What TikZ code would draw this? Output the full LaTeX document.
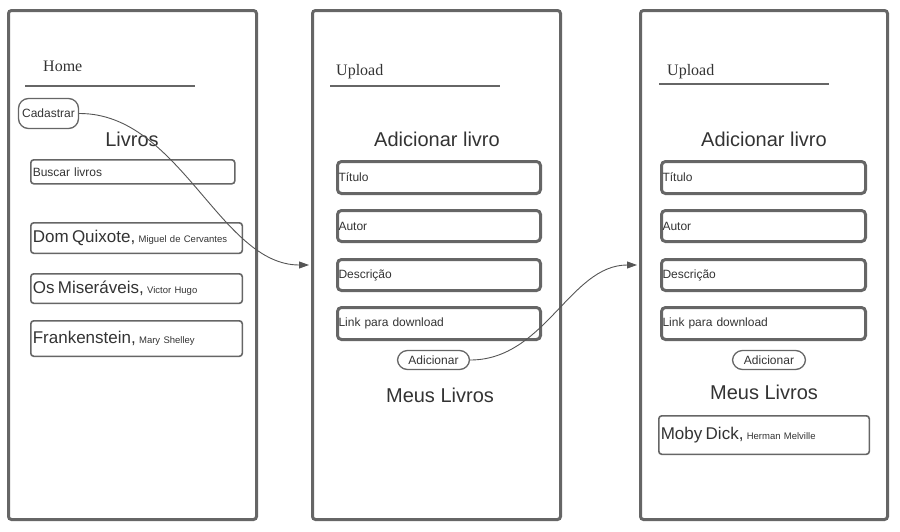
\documentclass[tikz,border=0pt]{standalone}
\usepackage{fontspec}
\setmainfont{Liberation Sans}
\newfontfamily\serifF{Liberation Serif}
\usetikzlibrary{arrows.meta}
\definecolor{frm}{HTML}{666666}
\definecolor{txt}{HTML}{333333}
\definecolor{cn}{HTML}{555555}
\newcommand\bktitle{\fontsize{17}{20}\selectfont}
\newcommand\bkauth{\fontsize{9.5}{11}\selectfont}
\tikzset{
  frame/.style={draw=frm, line width=3pt, rounded corners=3pt, anchor=north west, inner sep=0pt},
  thinbox/.style={draw=frm, line width=1.6pt, rounded corners=3pt, anchor=north west, inner xsep=2pt, inner ysep=0pt, align=left, text=txt},
  thickbox/.style={draw=frm, line width=3pt, rounded corners=4pt, anchor=north west, inner xsep=1pt, inner ysep=0pt, align=left, text=txt, font=\fontsize{12}{14}\selectfont},
  pill/.style={draw=frm, line width=1.3pt, rounded corners=10pt, inner sep=0pt, text=txt, font=\fontsize{12}{14}\selectfont},
  title/.style={text=txt, font=\fontsize{20}{24}\selectfont, inner sep=0pt},
  serift/.style={text=txt, font=\serifF\fontsize{16}{19}\selectfont, inner sep=0pt, anchor=west},
  rule/.style={draw=frm, line width=1.4pt},
  conn/.style={draw=cn, line width=0.9pt, -{Triangle[length=10pt,width=7pt]}},
}
\begin{document}
\begin{tikzpicture}[x=1pt,y=-1pt]
\useasboundingbox (0,0) rectangle (900,531);
% frames
\node[frame, minimum width=248pt, minimum height=509pt] (f1) at (7,9) {};
\node[frame, minimum width=248pt, minimum height=509pt] (f2) at (311,9) {};
\node[frame, minimum width=247pt, minimum height=509pt] (f3) at (639,9) {};

% frame 1
\node[serift] (home) at (43,66) {Home};
\coordinate (h1a) at (25,86); \coordinate (h1b) at (195,86);
\draw[rule] (h1a) -- (h1b);
\node[pill, minimum width=60pt, minimum height=30pt] (cad) at (48.5,113.5) {Cadastrar};
\node[title] (livros) at (132,139) {Livros};
\node[thinbox, text width=200pt, minimum height=24pt, font=\fontsize{12}{14}\selectfont] (busca) at (30,159) {Buscar livros};
\node[thinbox, text width=207.5pt, minimum height=30.5pt] (b1) at (30,222) {{\bktitle Dom Quixote,} {\bkauth Miguel de Cervantes}};
\node[thinbox, text width=207.5pt, minimum height=29.5pt] (b2) at (30,273) {{\bktitle Os Miseráveis,} {\bkauth Victor Hugo}};
\node[thinbox, text width=207.5pt, minimum height=35.5pt] (b3) at (30,320) {{\bktitle Frankenstein,} {\bkauth Mary Shelley}};

% frame 2
\node[serift] (up2) at (336,72) {Upload};
\coordinate (h2a) at (330,86); \coordinate (h2b) at (500,86);
\draw[rule] (h2a) -- (h2b);
\node[title] (add2) at (437,139) {Adicionar livro};
\node[thickbox, text width=201pt, minimum height=32pt] (t2) at (336,160) {Título};
\node[thickbox, text width=201pt, minimum height=31pt] (a2) at (336,209) {Autor};
\node[thickbox, text width=201pt, minimum height=31pt] (d2) at (336,258) {Descrição};
\node[thickbox, text width=201pt, minimum height=32pt] (l2) at (336,306) {Link para download};
\node[pill, minimum width=72pt, minimum height=19pt] (btn2) at (433.5,360) {Adicionar};
\node[title] (meus2) at (440,395) {Meus Livros};

% frame 3
\node[serift] (up3) at (667,72) {Upload};
\coordinate (h3a) at (659,84); \coordinate (h3b) at (829,84);
\draw[rule] (h3a) -- (h3b);
\node[title] (add3) at (764,139) {Adicionar livro};
\node[thickbox, text width=202pt, minimum height=32pt] (t3) at (660,160) {Título};
\node[thickbox, text width=202pt, minimum height=31pt] (a3) at (660,209) {Autor};
\node[thickbox, text width=202pt, minimum height=31pt] (d3) at (660,258) {Descrição};
\node[thickbox, text width=202pt, minimum height=32pt] (l3) at (660,306) {Link para download};
\node[pill, minimum width=73pt, minimum height=19pt] (btn3) at (769,360) {Adicionar};
\node[title] (meus3) at (764,392) {Meus Livros};
\node[thinbox, text width=206.5pt, minimum height=38.5pt] (m3) at (658,415) {{\bktitle Moby Dick,} {\bkauth Herman Melville}};

% connectors
\coordinate (e1) at (309,265);
\coordinate (e2) at (637,265);
\draw[conn] (cad.east) .. controls (180,113) and (220,265) .. (e1);
\draw[conn] (btn2.east) .. controls (545,360) and (570,265) .. (e2);
\end{tikzpicture}
\end{document}
